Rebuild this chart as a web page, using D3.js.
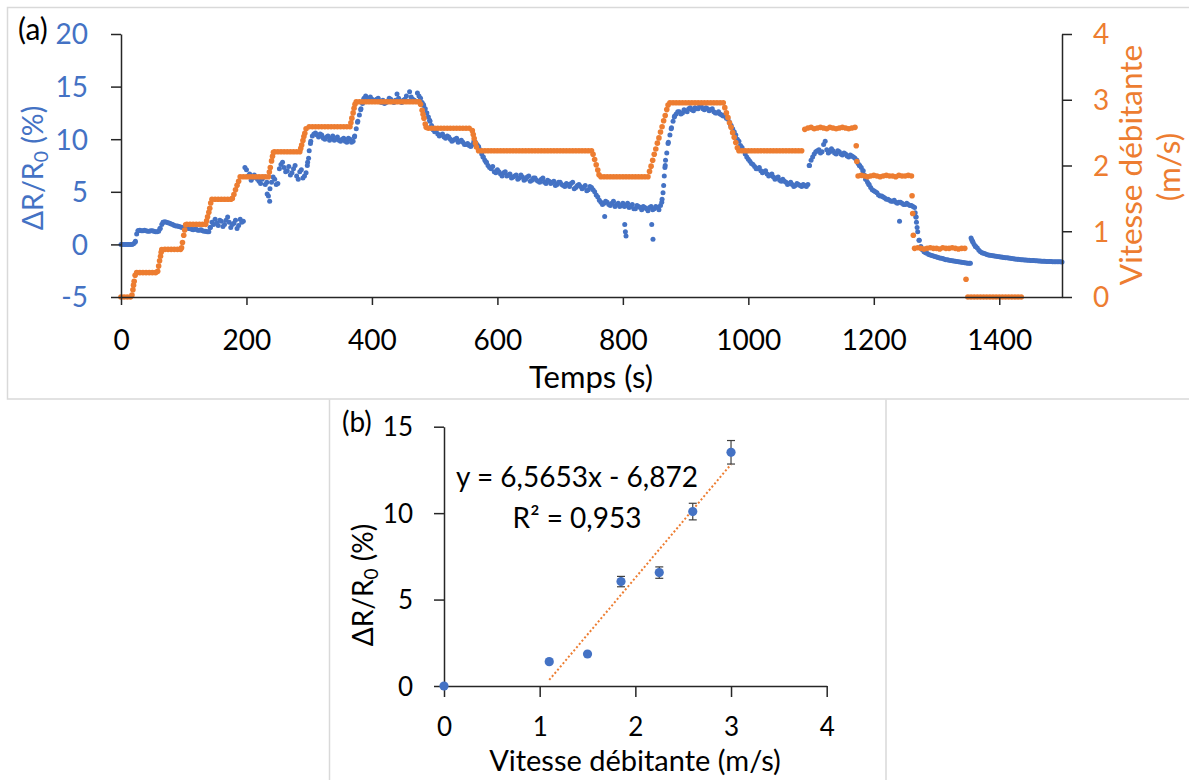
<!DOCTYPE html>
<html><head><meta charset="utf-8">
<script src="https://cdn.jsdelivr.net/npm/d3@7"></script>
<style>body{margin:0;background:#fff}svg{display:block}</style>
</head><body><svg id="c" width="1189" height="780"></svg>
<script>
// ---------- Chart (a): time series ----------
const timeStep = 5; // s between samples of the base grids below
const xTicksA = [0, 200, 400, 600, 800, 1000, 1200, 1400];
const yTicksLeftA = [-5, 0, 5, 10, 15, 20];
const yTicksRightA = [0, 1, 2, 3, 4];

// ΔR/R0 (%) sampled every 5 s from t = 0 to 1500 s
const resistanceValues = [
  0,0,0,0,0.05, 1.0,1.35,1.3,1.3,1.25, 1.3,1.2,1.25,1.9,2.15, 2.05,1.95,1.8,1.75,1.65,
  1.6,1.55,1.5,1.4,1.45, 1.35,1.3,1.25,1.2,2.1, 2.4,1.8,2.2,1.9,2.6, 1.6,2.0,1.5,2.4,2.2,
  7.1,6.7,6.3,6.4,6.0, 6.2,5.7,4.6,5.9,6.2, 5.8,7.6,7.3,7.0,6.6, 7.2,6.5,6.9,6.3,6.8,
  8.9,10.3,10.6,10.2,10.4, 10.0,10.3,10.1,9.9,10.2, 9.8,10.1,9.7,10.0,9.8, 11.0,12.3,13.4,14.1,13.9,
  13.8,13.6,13.9,13.5,13.4, 13.6,13.8,13.5,14.3,13.6, 13.7,14.1,14.5,13.8,13.6, 14.1,13.5,12.9,12.1,11.3,
  10.7,10.5,10.4,10.2,10.3, 10.0,9.9,10.1,9.8,9.7, 9.5,9.4,9.5,9.7,9.3, 8.6,8.0,7.5,7.2,6.9,
  7.1,6.7,6.8,6.5,6.7, 6.4,6.6,6.3,6.4,6.2, 6.5,6.1,6.3,6.0,6.2, 5.9,6.1,5.8,6.0,5.7,
  5.9,5.6,5.8,5.5,5.9, 5.4,5.7,5.3,5.6,5.2, 5.4,5.0,4.5,4.0,3.9, 4.0,3.7,4.1,3.8,3.6,
  3.9,3.7,3.5,3.8,3.4, 3.6,3.3,3.5,3.2,3.6, 3.4,3.5,3.7,5.6,8.7, 10.4,11.7,12.4,12.6,12.5,
  12.7,12.9,12.8,13.0,12.9, 13.1,12.8,12.9,12.8,12.6, 12.5,12.4,12.2,12.0,11.6, 11.0,10.4,9.8,9.2,8.6,
  8.1,7.7,7.4,7.2,7.0, 6.9,6.7,6.6,6.4,6.3, 6.1,6.2,5.9,5.8,5.7, 5.6,5.7,5.5,5.6,5.7,
  8.0,8.6,8.9,8.7,9.5, 9.0,8.8,8.9,8.6,8.8, 8.5,8.6,8.3,8.4,8.2, 7.7,7.3,6.6,5.9,5.4,
  5.1,4.9,4.6,4.5,4.3, 4.2,4.1,4.0,4.0,3.9, 3.8,3.8,3.7,3.5,1.2, -0.2,-0.7,-0.85,-1.0,-1.1,
  -1.2,-1.3,-1.35,-1.45,-1.5, -1.55,-1.6,-1.65,-1.7,-1.75, -1.78,0.6,0.0,-0.35,-0.7, -0.85,-0.95,-1.02,-1.08,-1.13,
  -1.18,-1.22,-1.26,-1.3,-1.34, -1.38,-1.42,-1.45,-1.48,-1.5, -1.52,-1.54,-1.56,-1.58,-1.6, -1.62,-1.63,-1.64,-1.65,-1.66,
  -1.67
];
// ΔR/R0 (%) at the half-steps, t = 2.5, 7.5, ... 1497.5 s
const resistanceMidValues = [
  0,0,0,0,0.2, 1.3,1.3,1.35,1.25,1.3, 1.25,1.2,1.5,2.1,2.1, 2.0,1.9,1.75,1.7,1.6,
  1.6,1.5,1.45,1.45,1.35, 1.4,1.25,1.2,1.6,1.9, 2.0,2.3,1.7,2.3,2.1, 1.9,2.3,1.8,2.1,7.3,
  6.5,6.1,6.6,6.2,5.8, 6.4,5.9,5.3,6.4,5.7, 7.2,7.8,6.9,7.4,6.8, 7.5,6.2,7.1,6.5,7.8,
  9.8,10.5,10.4,10.5,10.1, 10.2,9.9,10.3,10.0,9.9, 10.0,9.8,10.1,9.7,10.3, 11.7,12.9,13.9,13.8,14.0,
  13.7,13.8,13.6,13.7,13.5, 13.9,13.6,13.7,13.9,13.5, 13.8,13.6,14.0,13.7,14.4, 13.9,13.2,12.5,11.7,10.9,
  10.8,10.3,10.5,10.1,10.2, 9.8,10.0,9.7,9.9,9.5, 9.6,9.3,9.8,9.5,9.0, 8.3,7.8,7.3,7.4,6.8,
  6.9,6.5,6.9,6.6,6.3, 6.5,6.2,6.6,6.1,6.4, 6.0,6.3,6.1,5.9,6.3, 5.8,6.0,5.9,5.6,5.9,
  5.7,5.5,5.7,5.8,5.3, 5.6,5.5,5.4,5.1,5.5, 5.2,4.7,4.2,3.8,4.1, 3.8,3.9,3.6,3.9,3.7,
  3.6,3.9,3.6,3.4,3.7, 3.5,3.6,3.4,3.5,3.3, 3.6,3.3,4.3,7.5,9.7, 11.1,12.2,12.6,12.4,12.8,
  12.6,13.0,12.7,12.9,13.2, 12.9,13.0,12.7,12.9,12.5, 12.6,12.3,12.3,11.9,11.3, 10.7,10.0,9.4,8.9,8.3,
  7.9,7.6,7.2,7.3,6.8, 7.0,6.5,6.7,6.2,6.4, 6.0,6.0,5.7,5.9,5.5, 5.8,5.6,5.7,5.5,7.5,
  8.3,8.8,9.0,8.8,9.8, 8.7,9.1,8.7,8.9,8.6, 8.7,8.4,8.5,8.3,8.0, 7.5,7.0,6.2,5.7,5.2,
  5.0,4.7,4.6,4.4,4.3, 4.1,4.2,3.9,4.0,3.8, 3.9,3.7,3.6,2.6,0.4, -0.5,-0.8,-0.95,-1.05,-1.15,
  -1.25,-1.32,-1.4,-1.47,-1.52, -1.58,-1.62,-1.68,-1.72,-1.76, -1.8,0.3,-0.2,-0.55,-0.8, -0.9,-1.0,-1.05,-1.1,-1.15,
  -1.2,-1.24,-1.28,-1.32,-1.36, -1.4,-1.43,-1.46,-1.49,-1.51, -1.53,-1.55,-1.57,-1.59,-1.61, -1.62,-1.63,-1.64,-1.65,-1.66
];
// extra ΔR/R0 samples (transitions and outliers)
const resistanceExtraTimes = [23,27, 62,67, 142, 233,237, 297,299,302, 372,377,382,387, 482,487,492,497, 577,582,
  771,803,804,805,846,848, 862,864,866,867,868,872,877,882, 972,977,982,987, 1097,
  1173,1177,1183,1187,1192, 1241,1266,1267,1268,1269,1272, 1354,1356,1358,1362];
const resistanceExtraValues = [0.3,1.3, 1.5,2.1, 1.6, 4.8,4.1, 7.5,8.2,9.6, 10.2,11.6,12.8,13.8, 13.3,12.5,11.8,11.0, 8.3,7.8,
  2.66,1.9,1.2,0.8,1.9,0.5, 4.0,4.9,6.5,7.3,8.0,9.6,11.0,12.1, 11.3,10.6,9.9,9.3, 7.5,
  8.0,7.5,7.0,6.2,5.7, 2.2,3.0,2.6,2.1,1.6,0.4, -1.8,0.45,0.2,-0.2];

// Vitesse débitante (m/s) sampled every 5 s from t = 0 to 1435 s
const speedValues = [
  0,0,0,0,0.18, 0.37,0.37,0.37,0.37,0.37, 0.37,0.37,0.47,0.72,0.725, 0.725,0.725,0.725,0.725,0.725,
  0.94,1.105,1.105,1.105,1.105, 1.105,1.105,1.105,1.29,1.486, 1.486,1.486,1.486,1.486,1.486, 1.486,1.56,1.70,1.83,1.83,
  1.83,1.83,1.83,1.83,1.83, 1.83,1.83,1.83,2.07,2.21, 2.21,2.21,2.21,2.21,2.21, 2.21,2.21,2.21,2.38,2.56,
  2.59,2.59,2.59,2.59,2.59, 2.59,2.59,2.59,2.59,2.59, 2.59,2.59,2.59,2.59,2.80, 2.97,2.97,2.97,2.97,2.97,
  2.97,2.97,2.97,2.97,2.97, 2.97,2.97,2.97,2.97,2.97, 2.97,2.97,2.97,2.97,2.97, 2.97,2.84,2.63,2.566,2.566,
  2.566,2.566,2.566,2.566,2.566, 2.566,2.566,2.566,2.566,2.566, 2.566,2.566,2.53,2.34,2.225, 2.225,2.225,2.225,2.225,2.225,
  2.225,2.225,2.225,2.225,2.225, 2.225,2.225,2.225,2.225,2.225, 2.225,2.225,2.225,2.225,2.225, 2.225,2.225,2.225,2.225,2.225,
  2.225,2.225,2.225,2.225,2.225, 2.225,2.225,2.225,2.225,2.225, 2.225,2.09,1.93,1.83,1.83, 1.83,1.83,1.83,1.83,1.83,
  1.83,1.83,1.83,1.83,1.83, 1.83,1.83,1.83,1.83,1.99, 2.17,2.34,2.51,2.68,2.85, 2.955,2.955,2.955,2.955,2.955,
  2.955,2.955,2.955,2.955,2.955, 2.955,2.955,2.955,2.955,2.955, 2.955,2.955,2.955,2.80,2.65, 2.50,2.35,2.225,2.225,2.225,
  2.225,2.225,2.225,2.225,2.225, 2.225,2.225,2.225,2.225,2.225, 2.225,2.225,2.225,2.225,2.225, 2.225,2.225,2.225,2.55,2.57,
  2.58,2.56,2.57,2.58,2.57, 2.56,2.58,2.57,2.56,2.57, 2.58,2.57,2.56,2.57,2.58, 1.84,1.85,1.84,1.83,1.84,
  1.85,1.84,1.83,1.84,1.85, 1.84,1.84,1.83,1.85,1.84, 1.84,1.85,1.84,0.74,0.75, 0.74,0.73,0.74,0.75,0.74,
  0.74,0.73,0.75,0.74,0.74, 0.75,0.74,0.73,0.74,0.74, 0,0,0,0,0, 0,0,0,0,0,
  0,0,0,0,0, 0,0,0
];
// extra speed samples on the ramps between plateaus
const speedExtraTimes = [17.5,19,21,22.5, 58.5,61.5,63,64, 96.5,98,101.5,103, 136.5,138,141.5,143,
  177.5,182.5,187.5, 236.5,238,241.5,243, 286.5,288,291.5,293, 366.5,368,371.5,373, 477.5,481.5,483,486.5,
  561.5,563,566.5, 752.5,757.5,762, 842.5,847.5,852.5,857.5,862.5,867.5,872, 962.5,967.5,972.5,977.5,982.5,
  1172,1173,1261,1262,1263,1347];
const speedExtraValues = [0.03,0.11,0.24,0.33, 0.39,0.55,0.62,0.68, 0.75,0.83,1.02,1.10, 1.16,1.22,1.35,1.43,
  1.50,1.63,1.76, 1.90,1.97,2.14,2.20, 2.26,2.31,2.44,2.49, 2.65,2.72,2.87,2.93, 2.93,2.78,2.72,2.58,
  2.47,2.41,2.28, 2.17,2.01,1.86, 1.91,2.08,2.25,2.42,2.59,2.76,2.92, 2.88,2.73,2.58,2.43,2.27,
  2.30,2.06,1.54,1.27,0.94,0.27];

// ---------- Chart (b): ΔR/R0 vs speed ----------
const speedB = [0, 1.1, 1.5, 1.85, 2.25, 2.6, 3.0];
const respB = [0, 1.41, 1.85, 6.04, 6.56, 10.09, 13.52];
const errB = [0, 0, 0, 0.3, 0.33, 0.48, 0.68];
const trendSlope = 6.5653, trendIntercept = -6.872, trendRange = [1.1, 3.0];
const xTicksB = [0, 1, 2, 3, 4];
const yTicksB = [0, 5, 10, 15];

// ---------- drawing ----------
const FONT = "Lato, 'Open Sans', sans-serif";
const BLUE = "#4472C4", ORANGE = "#ED7D31", AXIS = "#262626", FRAME = "#d9d9d9";
const svg = d3.select("#c");
const plain = d => String(d);

// frames
svg.append("path").attr("fill", "none").attr("stroke", FRAME).attr("stroke-width", 1.5)
  .attr("d", "M1189,7.5H7.5V399H1189");
svg.append("path").attr("fill", "none").attr("stroke", FRAME).attr("stroke-width", 1.5)
  .attr("d", "M329.5,780V399.5M886,399.5V780");

function styleAxis(g, color, size) {
  g.attr("font-family", FONT).attr("font-size", size);
  g.selectAll("path,line").attr("stroke", AXIS).attr("stroke-width", 1.5);
  g.selectAll("text").attr("fill", color);
}

// scales (a)
const xA = d3.scaleLinear().domain([0, 1500]).range([121, 1062]);
const yL = d3.scaleLinear().domain([-5, 20]).range([297, 34]);
const yR = d3.scaleLinear().domain([0, 4]).range([297, 34]);

const blueA = resistanceValues.map((v, i) => [i * timeStep, v])
  .concat(resistanceMidValues.map((v, i) => [i * timeStep + timeStep / 2, v]))
  .concat(resistanceExtraTimes.map((t, i) => [t, resistanceExtraValues[i]]));
const orangeA = speedValues.map((v, i) => [i * timeStep, v])
  .concat(speedExtraTimes.map((t, i) => [t, speedExtraValues[i]]));

svg.append("g").selectAll("circle").data(blueA).join("circle")
  .attr("cx", d => xA(d[0])).attr("cy", d => yL(d[1])).attr("r", 2.5).attr("fill", BLUE);
svg.append("g").selectAll("circle").data(orangeA).join("circle")
  .attr("cx", d => xA(d[0])).attr("cy", d => yR(d[1])).attr("r", 2.8).attr("fill", ORANGE);

const gxA = svg.append("g").attr("transform", "translate(0,297)")
  .call(d3.axisBottom(xA).tickValues(xTicksA).tickFormat(plain).tickSize(8).tickSizeOuter(0));
styleAxis(gxA, "#000", 28);
gxA.selectAll("text").attr("y", 53).attr("dy", "0");

const gyL = svg.append("g").attr("transform", "translate(121,0)")
  .call(d3.axisLeft(yL).tickValues(yTicksLeftA).tickFormat(plain).tickSize(10).tickPadding(23).tickSizeOuter(0));
styleAxis(gyL, BLUE, 28);
gyL.selectAll("text").attr("dy", "0.35em");

const gyR = svg.append("g").attr("transform", "translate(1062,0)")
  .call(d3.axisRight(yR).tickValues(yTicksRightA).tickFormat(plain).tickSize(10).tickPadding(21).tickSizeOuter(0));
styleAxis(gyR, ORANGE, 28);
gyR.selectAll("text").attr("dy", "0.35em");

function txt(x, y, s, opts = {}) {
  const t = svg.append("text").attr("x", x).attr("y", y).attr("font-family", FONT)
    .attr("font-size", opts.size || 28).attr("fill", opts.color || "#000")
    .attr("text-anchor", opts.anchor || "start");
  if (opts.rotate) t.attr("transform", `rotate(-90,${x},${y})`);
  return t.text(s);
}
function deltaTitle(x, y, color, size) {
  const t = svg.append("text").attr("x", x).attr("y", y).attr("font-family", FONT)
    .attr("font-size", size).attr("fill", color).attr("text-anchor", "middle")
    .attr("transform", `rotate(-90,${x},${y})`);
  t.append("tspan").text("ΔR/R");
  t.append("tspan").attr("font-size", size * 0.68).attr("dy", 5).text("0");
  t.append("tspan").attr("dy", -5).text(" (%)");
}

txt(18, 40, "(a)", { size: 30 });
txt(591, 388, "Temps (s)", { anchor: "middle", size: 31 });
deltaTitle(43, 168, BLUE, 28.5);
txt(1142, 165, "Vitesse débitante", { anchor: "middle", color: ORANGE, rotate: true, size: 31.5 });
txt(1180, 167, "(m/s)", { anchor: "middle", color: ORANGE, rotate: true, size: 31.5 });

// scales (b)
const xB = d3.scaleLinear().domain([0, 4]).range([444, 826.7]);
const yB = d3.scaleLinear().domain([0, 15]).range([686, 426.7]);

const gxB = svg.append("g").attr("transform", "translate(0,686)")
  .call(d3.axisBottom(xB).tickValues(xTicksB).tickFormat(plain).tickSize(11).tickSizeOuter(0));
styleAxis(gxB, "#000", 26);
gxB.selectAll("text").attr("y", 50).attr("dy", "0");

const gyB = svg.append("g").attr("transform", "translate(444,0)")
  .call(d3.axisLeft(yB).tickValues(yTicksB).tickFormat(plain).tickSize(10).tickPadding(21).tickSizeOuter(0));
styleAxis(gyB, "#000", 26);
gyB.selectAll("text").attr("dy", "0.35em");

// trendline
svg.append("line")
  .attr("x1", xB(trendRange[0])).attr("y1", yB(trendSlope * trendRange[0] + trendIntercept))
  .attr("x2", xB(trendRange[1])).attr("y2", yB(trendSlope * trendRange[1] + trendIntercept))
  .attr("stroke", ORANGE).attr("stroke-width", 2).attr("stroke-dasharray", "2,2.2");

// error bars
const eb = svg.append("g").attr("stroke", "#404040").attr("stroke-width", 1.2);
speedB.forEach((s, i) => {
  if (!errB[i]) return;
  const x = xB(s), y1 = yB(respB[i] - errB[i]), y2 = yB(respB[i] + errB[i]);
  eb.append("line").attr("x1", x).attr("x2", x).attr("y1", y1).attr("y2", y2);
  eb.append("line").attr("x1", x - 4).attr("x2", x + 4).attr("y1", y1).attr("y2", y1);
  eb.append("line").attr("x1", x - 4).attr("x2", x + 4).attr("y1", y2).attr("y2", y2);
});
svg.append("g").selectAll("circle").data(speedB).join("circle")
  .attr("cx", d => xB(d)).attr("cy", (d, i) => yB(respB[i])).attr("r", 4.6).attr("fill", BLUE);

txt(342, 432, "(b)", { size: 28 });
txt(577, 487, "y = 6,5653x - 6,872", { anchor: "middle", size: 28 });
txt(577, 528, "R² = 0,953", { anchor: "middle", size: 28 });
txt(635, 771, "Vitesse débitante (m/s)", { anchor: "middle", size: 29 });
deltaTitle(373, 585, "#000", 28);
</script>
</body></html>
